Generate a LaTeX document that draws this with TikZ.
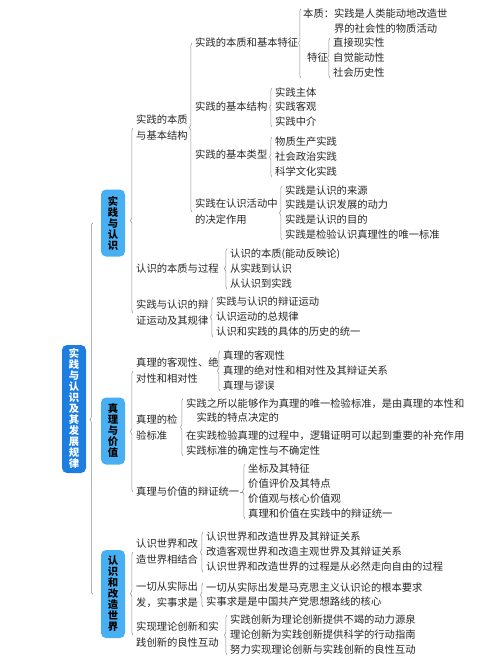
\documentclass[tikz,border=0pt]{standalone}
\usepackage{fontspec}
\setmainfont{Noto Sans CJK SC}
\usetikzlibrary{decorations.pathreplacing,calc}
\definecolor{rootblue}{HTML}{1E7EE0}
\definecolor{topicblue}{HTML}{48B0F2}
\definecolor{linegray}{HTML}{8A8A8A}
\definecolor{textgray}{HTML}{262626}

\begin{document}
\begin{tikzpicture}[
  x=1pt, y=-1pt,
  item/.style={anchor=west, inner sep=0pt, font=\fontsize{10.3}{16}\selectfont, text=textgray, align=left},
  tight/.style={font=\fontsize{10.3}{14.5}\selectfont},
  vbox/.style={rounded corners=5pt, minimum width=24pt, inner sep=0pt, align=center, font=\bfseries\fontsize{10.3}{11}\selectfont},
  root/.style={vbox, fill=rootblue, text=white},
  topic/.style={vbox, fill=topicblue, text=black},
  brc/.style={draw=linegray, line width=0.5pt, decorate, decoration={brace, amplitude=2.5pt}},
  link/.style={draw=linegray, line width=0.6pt}
]
\useasboundingbox (0,0) rectangle (500,667);

% root and topics
\node[root, minimum height=128pt] (root) at (74,409) {实\\践\\与\\认\\识\\及\\其\\发\\展\\规\\律};
\node[topic, minimum height=67pt] (g1) at (113,223) {实\\践\\与\\认\\识};
\node[topic, minimum height=67pt] (g2) at (113,431) {真\\理\\与\\价\\值};
\node[topic, minimum height=88pt] (g3) at (113,594) {认\\识\\和\\改\\造\\世\\界};

% 实践与认识
\node[item] (a1) at (136,128) {实践的本质\\与基本结构};
\node[item] (a2) at (136,269) {认识的本质与过程};
\node[item] (a3) at (136,313) {实践与认识的辩\\证运动及其规律};

\node[item] (b1) at (195,43) {实践的本质和基本特征};
\node[item] (b2) at (195,107) {实践的基本结构};
\node[item] (b3) at (195,155) {实践的基本类型};
\node[item] (b4) at (195,212) {实践在认识活动中\\的决定作用};

\node[item, tight] (c1) at (303,21) {本质：实践是人类能动地改造世\\\hspace*{3em}界的社会性的物质活动};
\node[item] (c2) at (307,58) {特征};
\node[item] (d1) at (333,43) {直接现实性};
\node[item] (d2) at (333,58) {自觉能动性};
\node[item] (d3) at (333,73) {社会历史性};

\node[item] (m1) at (275,93) {实践主体};
\node[item] (m2) at (275,107) {实践客观};
\node[item] (m3) at (275,122) {实践中介};

\node[item] (n1) at (275,142) {物质生产实践};
\node[item] (n2) at (275,157) {社会政治实践};
\node[item] (n3) at (275,172) {科学文化实践};

\node[item] (p1) at (285,191) {实践是认识的来源};
\node[item] (p2) at (285,205) {实践是认识发展的动力};
\node[item] (p3) at (285,220) {实践是认识的目的};
\node[item] (p4) at (285,235) {实践是检验认识真理性的唯一标准};

\node[item] (q1) at (230,254) {认识的本质(能动反映论)};
\node[item] (q2) at (230,269) {从实践到认识};
\node[item] (q3) at (230,284) {从认识到实践};

\node[item] (r1) at (216,302) {实践与认识的辩证运动};
\node[item] (r2) at (216,317) {认识运动的总规律};
\node[item] (r3) at (216,332) {认识和实践的具体的历史的统一};

% 真理与价值
\node[item] (e1) at (136,371) {真理的客观性、绝\\对性和相对性};
\node[item] (e2) at (136,428) {真理的检\\验标准};
\node[item] (e3) at (136,492) {真理与价值的辩证统一};

\node[item] (s1) at (223,356) {真理的客观性};
\node[item] (s2) at (223,371) {真理的绝对性和相对性及其辩证关系};
\node[item] (s3) at (223,386) {真理与谬误};

\node[item, tight] (h1) at (186,410.5) {实践之所以能够作为真理的唯一检验标准，是由真理的本性和\\\hspace*{1em}实践的特点决定的};
\node[item] (h2) at (186,436) {在实践检验真理的过程中，逻辑证明可以起到重要的补充作用};
\node[item] (h3) at (186,451) {实践标准的确定性与不确定性};

\node[item] (k1) at (248,469) {坐标及其特征};
\node[item] (k2) at (248,484) {价值评价及其特点};
\node[item] (k3) at (248,499) {价值观与核心价值观};
\node[item] (k4) at (248,514) {真理和价值在实践中的辩证统一};

% 认识和改造世界
\node[item] (f1) at (136,552) {认识世界和改\\造世界相结合};
\node[item] (f2) at (136,595) {一切从实际出\\发，实事求是};
\node[item] (f3) at (136,635) {实现理论创新和实\\践创新的良性互动};

\node[item] (t1) at (206,537) {认识世界和改造世界及其辩证关系};
\node[item] (t2) at (206,552) {改造客观世界和改造主观世界及其辩证关系};
\node[item] (t3) at (206,567) {认识世界和改造世界的过程是从必然走向自由的过程};

\node[item] (u1) at (206,588) {一切从实际出发是马克思主义认识论的根本要求};
\node[item] (u2) at (206,602) {实事求是是中国共产党思想路线的核心};

\node[item] (v1) at (230,620) {实践创新为理论创新提供不竭的动力源泉};
\node[item] (v2) at (230,635) {理论创新为实践创新提供科学的行动指南};
\node[item] (v3) at (230,650) {努力实现理论创新与实践创新的良性互动};

% braces
\draw[brc, decoration={amplitude=3pt, aspect=0.47}] ([xshift=-8pt]g3.west) -- ([xshift=-8pt]g1.west);
\draw[brc] ([xshift=-3pt]a3.west) -- ([xshift=-3pt]a1.west);
\draw[brc] ([xshift=-3pt]e3.west) -- ([xshift=-3pt]e1.west);
\draw[brc] ([xshift=-3pt]f3.west) -- ([xshift=-3pt]f1.west);

\draw[brc] ([xshift=-3pt]b4.west) -- ([xshift=-3pt]b1.west);
\coordinate (c1bot) at (c1.west |- d3.south);
\draw[brc] ([xshift=-2pt]c1bot) -- ([xshift=-2pt]c1.north west);
\draw[brc] ([xshift=-3pt]d3.south west) -- ([xshift=-3pt]d1.north west);
\draw[brc] ([xshift=-3pt]m3.south west) -- ([xshift=-3pt]m1.north west);
\draw[brc] ([xshift=-3pt]n3.south west) -- ([xshift=-3pt]n1.north west);
\draw[brc] ([xshift=-3pt]p4.south west) -- ([xshift=-3pt]p1.north west);
\draw[brc] ([xshift=-3pt]q3.south west) -- ([xshift=-3pt]q1.north west);
\draw[brc] ([xshift=-3pt]r3.south west) -- ([xshift=-3pt]r1.north west);

\draw[brc] ([xshift=-3pt]s3.south west) -- ([xshift=-3pt]s1.north west);
\draw[brc] ([xshift=-3pt]h3.south west) -- ([xshift=-3pt]h1.north west);
\draw[brc] ([xshift=-3pt]k4.south west) -- ([xshift=-3pt]k1.north west);
\coordinate (e3tip) at ($(k1.west |- e3.east)+(-5.5,0)$);
\draw[link] ([xshift=0.5pt]e3.east) -- (e3tip);

\draw[brc] ([xshift=-3pt]t3.south west) -- ([xshift=-3pt]t1.north west);
\draw[brc] ([xshift=-3pt]u2.south west) -- ([xshift=-3pt]u1.north west);
\draw[brc] ([xshift=-3pt]v3.south west) -- ([xshift=-3pt]v1.north west);
\end{tikzpicture}
\end{document}
